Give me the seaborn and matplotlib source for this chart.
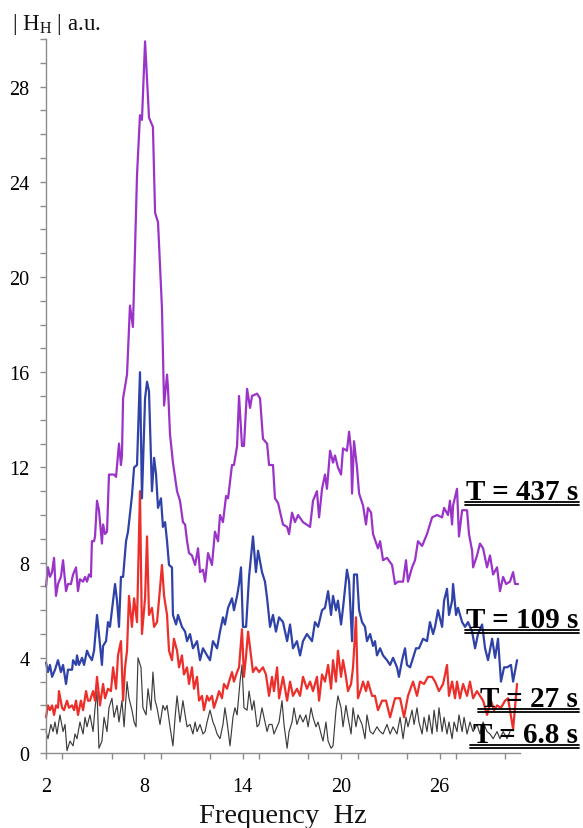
import matplotlib
matplotlib.use("Agg")
import matplotlib.pyplot as plt
from matplotlib.lines import Line2D
from matplotlib.ticker import FixedLocator, MultipleLocator
import pandas as pd
import seaborn as sns

# ---------------- data ----------------
freq_437 = [2.00, 2.12, 2.24, 2.37, 2.49, 2.61, 2.73, 2.91, 3.04, 3.22, 3.34, 3.52, 3.65, 3.83, 3.95,
            4.07, 4.26, 4.38, 4.50, 4.62, 4.74, 4.80, 4.93, 4.99, 5.11, 5.23, 5.41, 5.48, 5.60, 5.72,
            5.84, 6.15, 6.27, 6.45, 6.57, 6.63, 6.70, 6.94, 7.12, 7.30, 7.55, 7.73, 7.85, 8.04, 8.28,
            8.52, 8.65, 8.83, 9.07, 9.20, 9.38, 9.44, 9.56, 9.74, 9.99, 10.17, 10.35, 10.48, 10.60,
            10.72, 10.90, 11.09, 11.27, 11.39, 11.57, 11.70, 11.88, 12.12, 12.30, 12.49, 12.61, 12.79,
            12.98, 13.10, 13.34, 13.46, 13.65, 13.77, 13.95, 14.07, 14.26, 14.44, 14.56, 14.87, 15.05,
            15.23, 15.48, 15.60, 15.84, 15.96, 16.15, 16.45, 16.70, 16.82, 17.00, 17.18, 17.37, 17.67,
            18.10, 18.28, 18.52, 18.65, 18.83, 19.01, 19.13, 19.32, 19.50, 19.62, 19.80, 19.99, 20.11,
            20.35, 20.48, 20.60, 20.66, 20.78, 20.96, 21.09, 21.33, 21.51, 21.63, 21.82, 21.94, 22.24,
            22.37, 22.55, 22.79, 23.10, 23.28, 23.46, 23.77, 23.95, 24.07, 24.32, 24.50, 24.68, 24.93,
            25.23, 25.54, 25.84, 26.15, 26.27, 26.51, 26.63, 26.76, 26.82, 27.06, 27.18, 27.37, 27.67,
            27.79, 27.98, 28.04, 28.28, 28.46, 28.65, 28.89, 29.07, 29.26, 29.50, 29.68, 29.87, 30.05,
            30.29, 30.48, 30.60, 30.78]
mag_437 = [7.0, 7.8, 7.4, 7.6, 8.2, 6.6, 7.1, 7.4, 8.1, 6.8, 7.1, 7.1, 7.5, 7.8, 6.8,
           7.3, 7.2, 7.4, 7.2, 7.5, 7.4, 8.9, 8.9, 9.1, 10.6, 10.2, 8.8, 9.6, 9.2, 9.3,
           11.7, 11.7, 11.6, 13.0, 12.1, 12.5, 14.9, 15.9, 18.8, 17.9, 24.3, 26.8, 26.6, 29.9, 26.7,
           26.3, 22.7, 22.3, 18.7, 14.6, 15.9, 15.3, 13.4, 12.2, 11.0, 10.6, 9.7, 9.6, 8.9,
           8.4, 8.3, 7.9, 8.6, 7.6, 7.7, 7.2, 8.4, 7.9, 9.3, 8.9, 10.0, 9.7,
           10.8, 10.7, 12.1, 12.1, 12.9, 15.0, 12.9, 12.9, 15.3, 14.5, 15.0, 15.1, 14.9,
           13.2, 13.0, 12.1, 12.1, 10.7, 10.5, 9.6, 9.5, 9.2, 10.1, 9.7, 10.0, 9.7,
           9.5, 10.6, 11.0, 9.9, 11.1, 11.7, 11.1, 12.7, 12.2, 12.5, 12.0, 11.7, 12.8,
           12.7, 13.5, 12.7, 10.9, 13.1, 12.0, 10.9, 10.4, 9.6, 10.3, 10.1, 9.2, 8.6,
           8.9, 8.1, 8.2, 7.9, 7.1, 7.2, 7.2, 8.1, 7.2, 7.8, 8.1, 8.9, 8.7,
           9.2, 9.9, 10.0, 9.9, 10.3, 10.0, 10.6, 9.6, 10.4, 11.1, 9.1, 10.2, 10.2,
           9.2, 8.5, 7.8, 8.3, 8.8, 8.6, 7.8, 8.3, 7.5, 7.8, 6.8, 7.4, 7.1,
           7.2, 7.6, 7.1, 7.1]

freq_109 = [2.00, 2.12, 2.24, 2.37, 2.55, 2.73, 2.91, 3.04, 3.22, 3.34, 3.59, 3.65, 3.83, 3.89, 4.01,
            4.20, 4.32, 4.50, 4.62, 4.80, 4.93, 5.11, 5.23, 5.41, 5.48, 5.66, 5.78, 5.90, 6.09, 6.21,
            6.33, 6.45, 6.57, 6.70, 6.88, 7.00, 7.24, 7.37, 7.55, 7.73, 7.85, 8.04, 8.16, 8.28, 8.46,
            8.59, 8.71, 8.83, 9.01, 9.13, 9.26, 9.38, 9.50, 9.68, 9.74, 9.93, 10.05, 10.29, 10.48,
            10.60, 10.78, 10.96, 11.21, 11.39, 11.57, 11.82, 12.00, 12.18, 12.43, 12.61, 12.79, 12.91,
            13.10, 13.34, 13.46, 13.65, 13.77, 13.89, 14.01, 14.20, 14.38, 14.62, 14.80, 14.93, 15.17,
            15.35, 15.48, 15.66, 15.84, 16.02, 16.21, 16.45, 16.70, 16.88, 17.06, 17.30, 17.49, 17.67,
            17.91, 18.22, 18.40, 18.59, 18.83, 19.01, 19.20, 19.38, 19.50, 19.68, 19.80, 19.99, 20.11,
            20.35, 20.48, 20.66, 20.78, 20.96, 21.09, 21.27, 21.45, 21.57, 21.76, 21.94, 22.06, 22.18,
            22.37, 22.55, 22.79, 22.98, 23.16, 23.40, 23.52, 23.71, 23.89, 24.01, 24.20, 24.38, 24.56,
            24.74, 24.99, 25.23, 25.41, 25.60, 25.72, 25.90, 26.15, 26.27, 26.45, 26.57, 26.76, 26.82,
            27.00, 27.12, 27.37, 27.55, 27.73, 27.98, 28.16, 28.34, 28.59, 28.77, 28.95, 29.20, 29.38,
            29.56, 29.74, 29.93, 30.11, 30.35, 30.48, 30.72]
mag_109 = [3.8, 3.4, 3.7, 3.2, 3.5, 3.9, 3.4, 3.7, 2.9, 3.5, 3.5, 3.9, 3.7, 4.1, 3.7,
           4.0, 3.7, 4.3, 4.1, 3.9, 4.3, 5.8, 5.0, 3.7, 4.5, 4.7, 5.5, 5.3, 6.4, 7.1,
           6.4, 5.3, 7.4, 7.4, 8.9, 9.3, 10.8, 12.0, 12.1, 16.0, 10.7, 14.9, 15.6, 15.2, 11.0,
           12.4, 11.7, 10.3, 10.7, 9.5, 9.7, 8.9, 7.9, 7.8, 5.8, 5.4, 5.8, 5.3, 5.1,
           4.7, 5.0, 4.4, 4.7, 3.9, 4.4, 4.1, 3.9, 4.7, 4.4, 5.1, 5.7, 5.4,
           6.1, 6.5, 6.0, 6.6, 7.1, 7.8, 5.3, 5.3, 7.4, 9.1, 7.6, 8.5, 7.6,
           7.2, 6.5, 5.3, 5.8, 5.1, 5.7, 5.5, 4.7, 5.4, 4.4, 4.7, 4.1, 4.7,
           5.0, 4.7, 5.5, 5.3, 6.0, 6.1, 6.8, 5.8, 6.6, 6.0, 6.4, 5.4, 6.1,
           7.7, 7.2, 4.7, 7.5, 7.5, 6.0, 5.5, 5.3, 4.7, 5.0, 4.5, 4.7, 4.1,
           4.4, 4.1, 3.9, 3.7, 4.0, 3.6, 3.2, 3.9, 4.4, 3.7, 3.6, 4.0, 4.4,
           4.4, 4.8, 4.7, 5.5, 5.0, 5.3, 6.0, 5.3, 6.4, 6.9, 5.8, 6.4, 7.1,
           5.8, 6.1, 5.5, 5.3, 5.5, 5.1, 4.4, 5.0, 5.4, 4.4, 3.9, 4.8, 4.0,
           4.8, 3.0, 3.6, 3.6, 3.7, 3.0, 3.9]

freq_27 = [2.00, 2.12, 2.24, 2.37, 2.49, 2.61, 2.73, 2.79, 2.98, 3.10, 3.28, 3.40, 3.59, 3.71, 3.83,
           3.95, 4.13, 4.26, 4.44, 4.56, 4.68, 4.87, 4.99, 5.11, 5.29, 5.48, 5.60, 5.78, 5.96, 6.09,
           6.27, 6.39, 6.57, 6.70, 6.82, 6.94, 7.06, 7.24, 7.37, 7.55, 7.73, 7.85, 8.04, 8.16, 8.28,
           8.46, 8.59, 8.77, 8.95, 9.07, 9.20, 9.38, 9.50, 9.68, 9.80, 9.99, 10.11, 10.29, 10.41,
           10.60, 10.72, 10.90, 11.02, 11.21, 11.33, 11.51, 11.63, 11.82, 11.94, 12.12, 12.24, 12.43,
           12.55, 12.73, 12.85, 13.04, 13.16, 13.34, 13.46, 13.65, 13.77, 13.95, 14.07, 14.20, 14.32,
           14.50, 14.62, 14.80, 14.99, 15.23, 15.41, 15.60, 15.78, 15.90, 16.09, 16.21, 16.45, 16.70,
           16.88, 17.06, 17.30, 17.49, 17.67, 17.91, 18.10, 18.28, 18.52, 18.65, 18.83, 19.01, 19.20,
           19.38, 19.50, 19.68, 19.80, 19.99, 20.11, 20.29, 20.41, 20.60, 20.72, 20.90, 21.02, 21.21,
           21.33, 21.51, 21.63, 21.88, 22.06, 22.24, 22.49, 22.73, 22.98, 23.28, 23.59, 23.83, 24.07,
           24.38, 24.62, 24.80, 25.05, 25.29, 25.54, 25.72, 25.96, 26.21, 26.45, 26.57, 26.76, 26.94,
           27.06, 27.24, 27.43, 27.67, 27.85, 28.04, 28.28, 28.46, 28.65, 28.89, 29.13, 29.32, 29.50,
           29.74, 29.99, 30.17, 30.48, 30.72]
mag_27 = [1.5, 2.0, 1.8, 2.0, 1.6, 2.0, 1.9, 2.6, 1.9, 1.8, 2.2, 1.9, 2.0, 1.8, 2.2,
          1.6, 2.2, 1.8, 2.6, 2.2, 2.2, 2.6, 2.2, 3.2, 2.0, 2.9, 2.3, 2.7, 2.6, 3.6,
          2.7, 4.1, 4.7, 2.2, 3.6, 4.3, 6.6, 5.3, 6.5, 5.5, 11.0, 5.0, 6.5, 9.1, 5.8,
          6.1, 5.3, 5.5, 6.9, 7.9, 6.6, 5.8, 4.3, 3.9, 4.8, 4.3, 3.6, 4.1, 3.3,
          3.6, 2.9, 3.6, 2.7, 3.2, 2.2, 2.4, 1.8, 2.4, 2.2, 2.4, 1.9, 2.3,
          2.6, 2.3, 2.9, 2.7, 3.0, 3.4, 3.0, 3.4, 3.6, 5.2, 3.2, 4.1, 5.1,
          4.1, 3.4, 3.6, 3.4, 3.6, 3.3, 2.4, 3.2, 2.6, 3.6, 2.3, 3.2, 2.2,
          3.0, 2.4, 2.7, 2.4, 3.2, 2.7, 3.0, 2.6, 3.2, 2.2, 3.3, 3.0, 3.7,
          2.7, 3.9, 3.0, 4.3, 3.2, 3.9, 3.2, 2.6, 2.9, 3.6, 5.7, 2.3, 2.7,
          3.0, 2.6, 3.0, 2.4, 2.4, 1.8, 2.2, 2.2, 1.5, 2.3, 2.3, 1.5, 2.4,
          3.0, 2.4, 3.0, 2.9, 3.2, 3.2, 3.0, 2.6, 2.9, 3.7, 2.4, 3.0, 2.3,
          3.0, 2.3, 2.9, 2.4, 3.0, 2.3, 2.6, 2.4, 2.2, 1.6, 2.2, 1.8, 2.0,
          1.9, 2.2, 2.3, 1.0, 2.9]

freq_68 = [2.00, 2.12, 2.30, 2.43, 2.55, 2.67, 2.85, 3.04, 3.16, 3.28, 3.46, 3.65, 3.77, 3.89, 4.07,
           4.26, 4.38, 4.50, 4.68, 4.87, 4.99, 5.11, 5.23, 5.41, 5.54, 5.72, 5.84, 6.02, 6.15, 6.33,
           6.45, 6.63, 6.76, 6.94, 7.06, 7.24, 7.37, 7.49, 7.61, 7.79, 7.91, 8.10, 8.22, 8.40, 8.52,
           8.65, 8.77, 8.95, 9.13, 9.26, 9.38, 9.56, 9.74, 9.87, 9.99, 10.17, 10.35, 10.48, 10.60,
           10.78, 10.96, 11.09, 11.21, 11.39, 11.57, 11.70, 11.82, 12.00, 12.18, 12.30, 12.43, 12.61,
           12.79, 12.91, 13.04, 13.22, 13.40, 13.52, 13.65, 13.83, 13.95, 14.07, 14.26, 14.38, 14.56,
           14.68, 14.87, 14.99, 15.17, 15.29, 15.48, 15.60, 15.78, 15.90, 16.09, 16.21, 16.39, 16.51,
           16.70, 16.82, 17.00, 17.12, 17.30, 17.49, 17.67, 17.85, 17.98, 18.16, 18.28, 18.46, 18.59,
           18.77, 18.89, 19.07, 19.20, 19.38, 19.50, 19.68, 19.80, 19.99, 20.11, 20.29, 20.41, 20.60,
           20.72, 20.90, 21.02, 21.27, 21.45, 21.57, 21.76, 21.94, 22.18, 22.37, 22.55, 22.79, 22.98,
           23.16, 23.40, 23.59, 23.77, 23.95, 24.07, 24.32, 24.44, 24.62, 24.74, 24.93, 25.05, 25.23,
           25.35, 25.54, 25.66, 25.84, 25.96, 26.15, 26.27, 26.45, 26.57, 26.76, 26.88, 27.06, 27.18,
           27.37, 27.49, 27.67, 27.85, 28.04, 28.28, 28.46, 28.65, 28.89, 29.07, 29.26, 29.50, 29.68,
           29.87, 30.11, 30.29]
mag_68 = [0.9, 0.6, 1.2, 0.9, 1.3, 0.8, 1.6, 0.9, 1.2, 0.1, 0.5, 0.3, 0.8, 0.6, 1.3,
          0.8, 1.5, 1.1, 1.6, 0.9, 1.9, 2.6, 0.2, 0.5, 1.5, 0.9, 1.9, 2.3, 1.5, 2.0,
          1.3, 2.2, 1.1, 3.0, 2.3, 1.8, 1.3, 1.1, 4.0, 3.6, 1.9, 1.6, 2.7, 1.8, 3.4,
          2.2, 1.9, 1.2, 2.0, 1.8, 2.0, 1.1, 0.3, 1.5, 2.4, 1.3, 2.2, 1.6, 1.1,
          1.2, 0.8, 1.3, 0.9, 1.2, 0.8, 0.9, 1.3, 1.8, 1.3, 1.1, 0.8, 0.6,
          1.2, 1.9, 1.3, 0.3, 1.5, 1.9, 1.6, 3.0, 3.7, 1.9, 1.8, 2.6, 1.8,
          2.2, 1.1, 1.2, 1.9, 1.5, 0.9, 1.2, 1.2, 0.8, 1.1, 1.3, 2.2, 1.2,
          0.2, 0.9, 1.3, 1.9, 1.2, 1.6, 1.3, 1.6, 1.1, 1.9, 1.5, 1.1, 1.3,
          0.8, 0.5, 1.3, 0.5, 0.2, 0.3, 1.8, 2.4, 1.9, 1.1, 2.0, 1.5, 0.8,
          1.9, 1.1, 1.6, 1.2, 0.6, 1.6, 0.9, 0.8, 1.1, 0.9, 0.8, 1.2, 0.8,
          1.1, 0.8, 1.5, 0.6, 1.5, 1.1, 1.8, 1.2, 1.9, 1.3, 0.8, 1.5, 0.9,
          1.6, 0.8, 1.8, 0.9, 1.9, 0.9, 1.5, 0.8, 1.3, 0.6, 1.3, 0.9, 1.6,
          0.9, 1.5, 0.8, 1.3, 0.9, 1.2, 0.8, 1.3, 0.9, 0.8, 0.6, 0.9, 0.6,
          0.9, 0.6, 0.9]

series_labels = ["T = 437 s", "T = 109 s", "T = 27 s", "T = 6.8 s"]
x_ticks = [2, 8, 14, 20, 26]
y_ticks = [0, 4, 8, 12, 16, 20, 24, 28]

# ---------------- styling ----------------
W, H = 583, 829
sns.set_theme(style="ticks")
plt.rcParams["font.family"] = ["Liberation Serif", "DejaVu Serif"]
plt.rcParams["mathtext.fontset"] = "custom"
plt.rcParams["mathtext.rm"] = "Liberation Serif"

fig = plt.figure(figsize=(W / 100, H / 100), dpi=100)
ax = fig.add_axes([46 / W, 1 - 754 / H, (520 - 46) / W, (754 - 40) / H])

colors = ["#9a34c8", "#2f42a8", "#ec2f2a", "#3c3c3c"]
widths = [1.6, 1.6, 1.6, 0.85]
freqs = [freq_437, freq_109, freq_27, freq_68]
mags = [mag_437, mag_109, mag_27, mag_68]

for f, m, c, lw, lab in reversed(list(zip(freqs, mags, colors, widths, series_labels))):
    df = pd.DataFrame({"freq": f, "mag": m})
    sns.lineplot(data=df, x="freq", y="mag", color=c, linewidth=lw,
                 estimator=None, sort=False, ax=ax, clip_on=False)

ax.set_xlim(2, 30.9)
ax.set_ylim(0, 30)
ax.set_xlabel("")
ax.set_ylabel("")
ax.xaxis.set_major_locator(FixedLocator(x_ticks))
ax.xaxis.set_minor_locator(MultipleLocator(3))
ax.yaxis.set_major_locator(FixedLocator(y_ticks))
ax.yaxis.set_minor_locator(MultipleLocator(1))
ax.set_xticklabels([str(t) for t in x_ticks])
ax.set_yticklabels([str(t) for t in y_ticks])

grey = "#8c8c8c"
for side in ["top", "right"]:
    ax.spines[side].set_visible(False)
for side in ["left", "bottom"]:
    ax.spines[side].set_color(grey)
    ax.spines[side].set_linewidth(1.0)
ax.tick_params(axis="both", which="both", direction="out", length=4, width=1.0,
               color=grey, labelsize=14.5, labelcolor="black")
ax.tick_params(axis="x", which="both", pad=13)
ax.tick_params(axis="y", which="both", pad=8)

# axis titles
fig.text(283 / W, 1 - 823 / H, "Frequency  Hz", ha="center", va="baseline",
         fontsize=20.5, color="#111111")
fig.text(12 / W, 1 - 30 / H, r"| H$_{\mathregular{H}}$ | a.u.", ha="left", va="baseline",
         fontsize=16.5, color="#111111")

# series labels with double underline
label_pos = [(578, 500, 465), (578, 628, 465), (578, 707, 478), (578, 743, 470)]
for lab, (xr, yb, xl) in zip(series_labels, label_pos):
    fig.text(xr / W, 1 - yb / H, lab, ha="right", va="baseline", fontsize=21,
             fontweight="bold", color="black", zorder=10)
    for dy in (3.0, 6.0):
        fig.add_artist(Line2D([xl / W, (xr + 1) / W], [1 - (yb + dy) / H, 1 - (yb + dy) / H],
                              transform=fig.transFigure, color="black", lw=1.3, zorder=10))

fig.savefig("out.png", dpi=100)
